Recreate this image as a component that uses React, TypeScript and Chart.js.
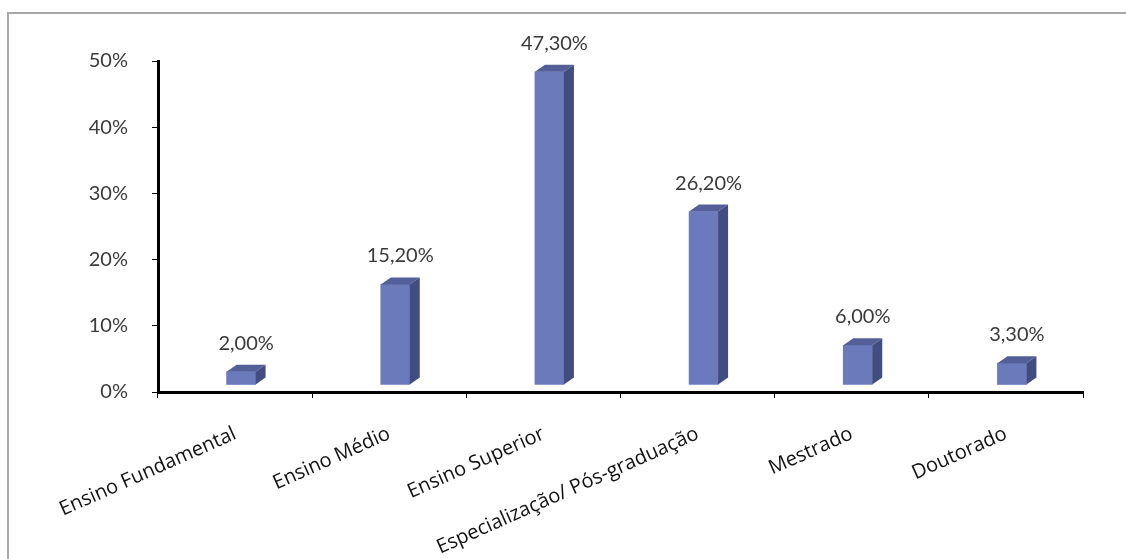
import React, { useEffect, useRef } from "react";
import { Chart, registerables } from "chart.js";

Chart.register(...registerables);

const categories = [
  "Ensino Fundamental",
  "Ensino Médio",
  "Ensino Superior",
  "Especialização/ Pós-graduação",
  "Mestrado",
  "Doutorado",
];
const values = [2.0, 15.2, 47.3, 26.2, 6.0, 3.3];
const valueLabels = ["2,00%", "15,20%", "47,30%", "26,20%", "6,00%", "3,30%"];
const yMin = 0;
const yMax = 50;
const yStep = 10;

const FRONT = "#6a7abb";
const SIDE = "#424d7f";
const TOP = "#525f99";
const DX = 6; // perspective shift of the front face
const DY = -7;
const DEPTH_X = 10;
const DEPTH_Y = 7;

const bar3d = {
  id: "bar3d",
  beforeDatasetsDraw(chart: any) {
    chart.ctx.save();
    chart.ctx.translate(DX, DY);
  },
  afterDatasetsDraw(chart: any) {
    const ctx = chart.ctx;
    const meta = chart.getDatasetMeta(0);
    meta.data.forEach((el: any, i: number) => {
      const { x, y, base, width } = el.getProps(["x", "y", "base", "width"], true);
      const x0 = x - width / 2;
      const x1 = x + width / 2;
      // top face
      ctx.fillStyle = TOP;
      ctx.beginPath();
      ctx.moveTo(x0, y);
      ctx.lineTo(x0 + DEPTH_X, y - DEPTH_Y);
      ctx.lineTo(x1 + DEPTH_X, y - DEPTH_Y);
      ctx.lineTo(x1, y);
      ctx.closePath();
      ctx.fill();
      // side face
      ctx.fillStyle = SIDE;
      ctx.beginPath();
      ctx.moveTo(x1, y);
      ctx.lineTo(x1 + DEPTH_X, y - DEPTH_Y);
      ctx.lineTo(x1 + DEPTH_X, base - DEPTH_Y);
      ctx.lineTo(x1, base);
      ctx.closePath();
      ctx.fill();
      // value label
      ctx.fillStyle = "#3a3a3a";
      ctx.font = "20px Lato, 'DejaVu Sans', sans-serif";
      ctx.textAlign = "center";
      ctx.textBaseline = "alphabetic";
      ctx.fillText(valueLabels[i], x + DEPTH_X / 2, y - DEPTH_Y - 15);
    });
    ctx.restore();
  },
};

export default function App() {
  const ref = useRef<HTMLCanvasElement | null>(null);
  useEffect(() => {
    if (!ref.current) return;
    const chart = new Chart(ref.current, {
      type: "bar",
      data: {
        labels: categories,
        datasets: [
          {
            data: values,
            backgroundColor: FRONT,
            borderWidth: 0,
            barThickness: 29,
          },
        ],
      },
      plugins: [bar3d],
      options: {
        responsive: false,
        animation: false,
        devicePixelRatio: 1,
        layout: { padding: { top: 61, right: 43, left: 0, bottom: 0 } },
        plugins: {
          legend: { display: false },
          tooltip: { enabled: false },
        },
        scales: {
          x: {
            offset: true,
            grid: {
              display: true,
              offset: true,
              drawOnChartArea: false,
              drawTicks: true,
              tickLength: 6,
              tickWidth: 1,
              tickColor: "#000",
            },
            border: { display: true, color: "#000", width: 3 },
            ticks: {
              autoSkip: false,
              minRotation: 24,
              maxRotation: 24,
              padding: 24,
              color: "#111",
              font: { family: "'Open Sans', sans-serif", size: 20 },
            },
            afterFit: (s: any) => {
              s.height = 167;
            },
          },
          y: {
            min: yMin,
            max: yMax,
            grid: {
              display: true,
              drawOnChartArea: false,
              drawTicks: true,
              tickLength: 6,
              tickWidth: 1,
              tickColor: "#000",
            },
            border: { display: true, color: "#000", width: 3 },
            ticks: {
              stepSize: yStep,
              padding: 24,
              color: "#3a3a3a",
              font: { family: "Lato, 'DejaVu Sans', sans-serif", size: 20 },
              callback: (v: any) => `${v}%`,
            },
            afterFit: (s: any) => {
              s.width = 158;
            },
          },
        },
      },
    });
    return () => chart.destroy();
  }, []);

  return (
    <div
      style={{
        position: "absolute",
        left: 0,
        top: 0,
        width: 1126,
        height: 559,
        overflow: "hidden",
        background: "#fff",
      }}
    >
      <div
        style={{
          position: "absolute",
          left: 7,
          top: 12,
          width: 1200,
          height: 700,
          border: "2px solid #a8a8a8",
        }}
      />
      <canvas
        ref={ref}
        width={1126}
        height={559}
        style={{ position: "absolute", left: 0, top: 0, display: "block" }}
      />
    </div>
  );
}
